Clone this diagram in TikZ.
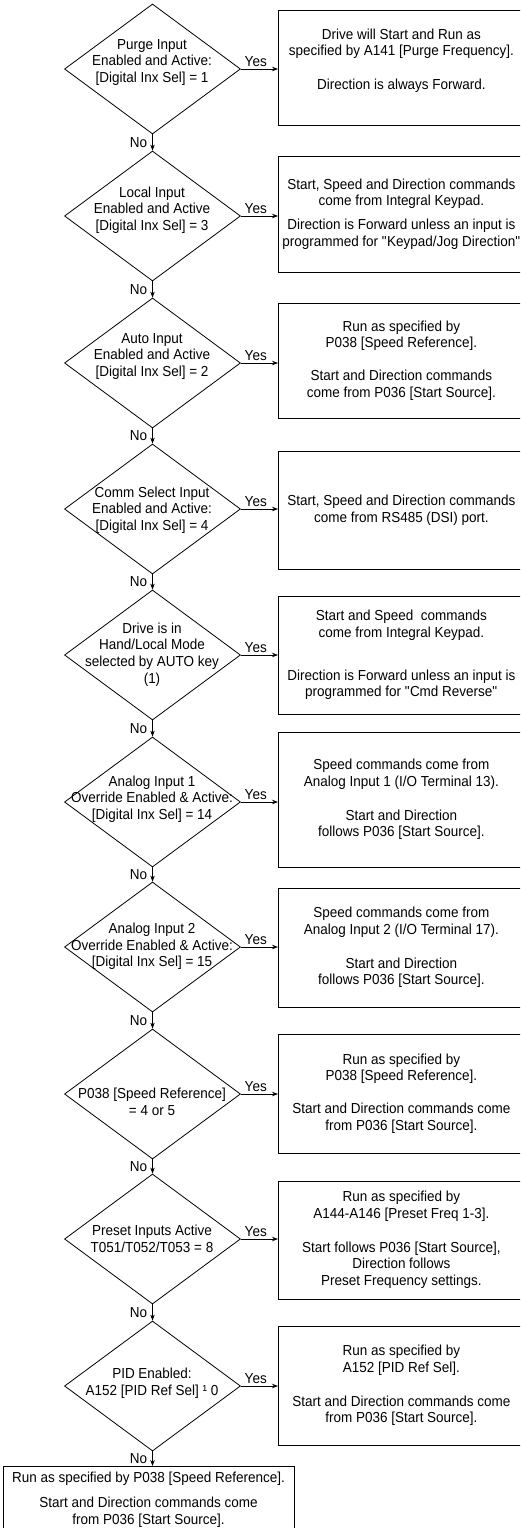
\documentclass[tikz,border=0pt]{standalone}
\usepackage{fontspec}
\setmainfont[FakeStretch=0.93]{Liberation Sans}
\usetikzlibrary{shapes.geometric,arrows.meta}

\tikzset{
  cond/.style={draw, diamond, minimum width=176pt, minimum height=130pt, inner sep=0pt},
  ctxt/.style={align=center, inner sep=0pt},
  act/.style={draw, anchor=west, minimum width=246pt, align=center, inner sep=0pt},
  flow/.style={-{Stealth[length=6pt,width=4.5pt]}},
  lbl/.style={inner sep=2pt},
}

\begin{document}
\begin{tikzpicture}[x=1pt, y=-1pt, line width=0.8pt, font=\fontsize{14.5}{16.7}\selectfont]
    \useasboundingbox (0,0) rectangle (520,1528);
    \clip (0,0) rectangle (520,1528);

    % decisions
    \node[cond] (d1) at (152.5,69) {};
    \node[cond] (d2) at (152.5,216) {};
    \node[cond] (d3) at (152.5,363) {};
    \node[cond] (d4) at (152.5,509) {};
    \node[cond] (d5) at (152.5,655) {};
    \node[cond] (d6) at (152.5,802) {};
    \node[cond] (d7) at (152.5,947) {};
    \node[cond] (d8) at (152.5,1094) {};
    \node[cond] (d9) at (152.5,1239) {};
    \node[cond] (d10) at (152.5,1386) {};

    \node[ctxt] (t1) at (152,62.5) {Purge Input\\Enabled and Active:\\{}[Digital Inx Sel] = 1};
    \node[ctxt] (t2) at (152,210) {Local Input\\Enabled and Active\\{}[Digital Inx Sel] = 3};
    \node[ctxt] (t3) at (152,356.5) {Auto Input\\Enabled and Active\\{}[Digital Inx Sel] = 2};
    \node[ctxt] (t4) at (152,510) {Comm Select Input\\Enabled and Active:\\{}[Digital Inx Sel] = 4};
    \node[ctxt] (t5) at (152,654.5) {Drive is in\\Hand/Local Mode\\selected by AUTO key\\(1)};
    \node[ctxt] (t6) at (152,799) {Analog Input 1\\Override Enabled \& Active:\\{}[Digital Inx Sel] = 14};
    \node[ctxt] (t7) at (152,946.5) {Analog Input 2\\Override Enabled \& Active:\\{}[Digital Inx Sel] = 15};
    \node[ctxt] (t8) at (152,1102) {P038 [Speed Reference]\\= 4 or 5};
    \node[ctxt] (t9) at (152,1239) {Preset Inputs Active\\T051/T052/T053 = 8};
    \node[ctxt] (t10) at (152,1383.5) {PID Enabled:\\A152 [PID Ref Sel] ¹ 0};

    % actions
    \node[act, minimum height=115pt] (b1) at (278,67.5) {Drive will Start and Run as\\specified by A141 [Purge Frequency].\\[17pt]Direction is always Forward.\\\mbox{}};
    \node[act, minimum height=116pt] (b2) at (278,214) {Start, Speed and Direction commands\\come from Integral Keypad.\\[7pt]Direction is Forward unless an input is\\programmed for \textquotedbl Keypad/Jog Direction\textquotedbl};
    \node[act, minimum height=115pt] (b3) at (278,360.5) {Run as specified by\\P038 [Speed Reference].\\[16pt]Start and Direction commands\\come from P036 [Start Source].};
    \node[act, minimum height=118pt] (b4) at (278,510) {Start, Speed and Direction commands\\come from RS485 (DSI) port.};
    \node[act, minimum height=118pt] (b5) at (278,655) {Start and Speed~ commands\\come from Integral Keypad.\\[26pt]Direction is Forward unless an input is\\programmed for \textquotedbl Cmd Reverse\textquotedbl};
    \node[act, minimum height=135pt] (b6) at (278,799.5) {Speed commands come from\\Analog Input 1 (I/O Terminal 13).\\[17pt]Start and Direction\\follows P036 [Start Source].};
    \node[act, minimum height=119pt] (b7) at (278,947.5) {Speed commands come from\\Analog Input 2 (I/O Terminal 17).\\[17pt]Start and Direction\\follows P036 [Start Source].};
    \node[act, minimum height=119pt] (b8) at (278,1093.5) {Run as specified by\\P038 [Speed Reference].\\[16pt]Start and Direction commands come\\from P036 [Start Source].};
    \node[act, minimum height=118pt] (b9) at (278,1240) {Run as specified by\\A144-A146 [Preset Freq 1-3].\\[17pt]Start follows P036 [Start Source],\\Direction follows\\Preset Frequency settings.};
    \node[act, minimum height=119pt] (b10) at (278,1385.5) {Run as specified by\\A152 [PID Ref Sel].\\[17pt]Start and Direction commands come\\from P036 [Start Source].};
    \node[draw, align=center, anchor=north, minimum width=291pt, inner xsep=0pt, inner ysep=6pt] (fin) at (148.5,1466) {Run as specified by P038 [Speed Reference].\\[8pt]Start and Direction commands come\\from P036 [Start Source].\\\mbox{}};

    % connectors
    \foreach \i [count=\j from 2] in {1,...,9}
        \draw[flow] (d\i.south) -- node[left, lbl, xshift=-3pt] {No} (d\j.north);
    \draw[flow] (d10.south) -- node[left, lbl, xshift=-3pt] {No} (d10.south |- fin.north);
    \foreach \i in {1,...,10}
        \draw[flow] (d\i.east) -- node[above, lbl, pos=.4] {Yes} (d\i.east -| b\i.west);
\end{tikzpicture}
\end{document}
